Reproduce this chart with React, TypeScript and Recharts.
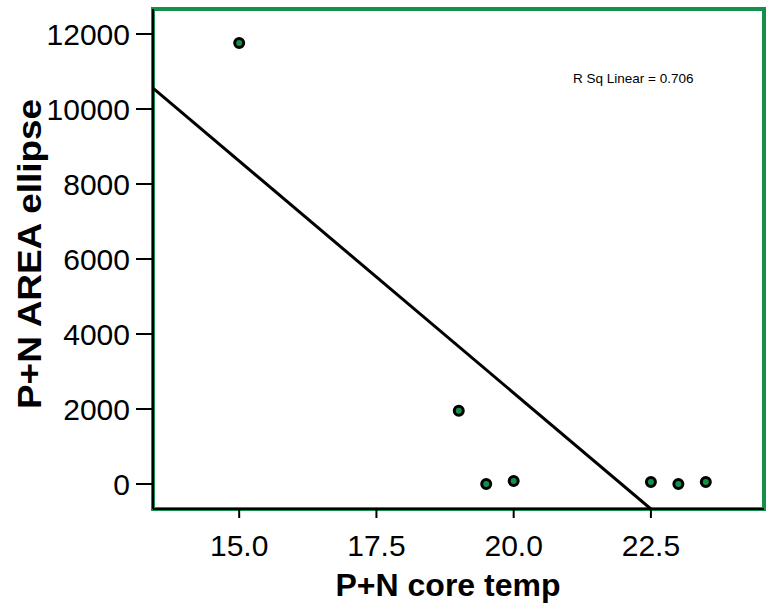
import { ScatterChart, Scatter, XAxis, YAxis, ReferenceArea, ReferenceLine, Customized } from "recharts";

// P+N core temp vs P+N AREA ellipse
const coreTemp = [15.0, 19.0, 19.5, 20.0, 22.5, 23.0, 23.5];
const areaEllipse = [11760, 1950, 0, 80, 50, 0, 50];
const xTicks = [15.0, 17.5, 20.0, 22.5];
const yTicks = [0, 2000, 4000, 6000, 8000, 10000, 12000];
const xDomain = [13.43, 24.56];
const yDomain = [-667, 12667];
const rSqText = "R Sq Linear = 0.706";

const GREEN = "#15904a";
const FONT = "'Liberation Sans', Arial, sans-serif";

const points = coreTemp.map((x, i) => ({ x, y: areaEllipse[i] }));

// least squares fit line
const n = coreTemp.length;
const mx = coreTemp.reduce((s, v) => s + v, 0) / n;
const my = areaEllipse.reduce((s, v) => s + v, 0) / n;
let sxy = 0;
let sxx = 0;
coreTemp.forEach((x, i) => {
    sxy += (x - mx) * (areaEllipse[i] - my);
    sxx += (x - mx) * (x - mx);
});
const slope = sxy / sxx;
const intercept = my - slope * mx;
const fitStart = { x: xDomain[0], y: intercept + slope * xDomain[0] };
const fitEndX = Math.min(xDomain[1], (yDomain[0] - intercept) / slope);
const fitEnd = { x: fitEndX, y: intercept + slope * fitEndX };

const Dot = (props: any) => (
    <circle cx={props.cx} cy={props.cy} r={4.5} fill={GREEN} stroke="#000" strokeWidth={3} />
);

const XTitle = () => (
    <text x={448} y={596} textAnchor="middle" fontFamily={FONT} fontWeight="bold" fontSize={32} fill="#000">
        P+N core temp
    </text>
);

const YTitle = () => (
    <text
        x={41}
        y={254}
        transform="rotate(-90 41 254)"
        textAnchor="middle"
        fontFamily={FONT}
        fontWeight="bold"
        fontSize={33}
        textLength={310}
        lengthAdjust="spacingAndGlyphs"
        fill="#000"
    >
        P+N AREA ellipse
    </text>
);

const RSqLabel = () => (
    <text x={573} y={83} fontFamily={FONT} fontSize={13.5} fill="#000">
        {rSqText}
    </text>
);

export default function App() {
    return (
        <div style={{ position: "absolute", left: 0, top: 0, width: 767, height: 614, background: "#fff" }}>
            <ScatterChart width={767} height={614} margin={{ top: 9, right: 3, left: 0, bottom: 0 }}>
                <XAxis
                    type="number"
                    dataKey="x"
                    domain={xDomain}
                    ticks={xTicks}
                    allowDataOverflow
                    height={105}
                    tickSize={9}
                    tickMargin={17}
                    tickFormatter={(v: number) => v.toFixed(1)}
                    axisLine={{ stroke: "#000", strokeWidth: 2 }}
                    tickLine={{ stroke: "#000", strokeWidth: 2 }}
                    tick={{ fill: "#000", fontSize: 30, fontFamily: FONT }}
                    label={<XTitle />}
                />
                <YAxis
                    type="number"
                    dataKey="y"
                    domain={yDomain}
                    ticks={yTicks}
                    allowDataOverflow
                    width={153}
                    tickSize={17}
                    tickMargin={6}
                    axisLine={{ stroke: "#000", strokeWidth: 2 }}
                    tickLine={{ stroke: "#000", strokeWidth: 2 }}
                    tick={{ fill: "#000", fontSize: 30, fontFamily: FONT }}
                    label={<YTitle />}
                />
                <ReferenceArea
                    x1={xDomain[0]}
                    x2={xDomain[1]}
                    y1={yDomain[0]}
                    y2={yDomain[1]}
                    fill="none"
                    stroke={GREEN}
                    strokeWidth={4}
                />
                <ReferenceLine segment={[fitStart, fitEnd]} stroke="#000" strokeWidth={3} />
                <Scatter data={points} shape={Dot} isAnimationActive={false} />
                <Customized component={RSqLabel} />
            </ScatterChart>
        </div>
    );
}
